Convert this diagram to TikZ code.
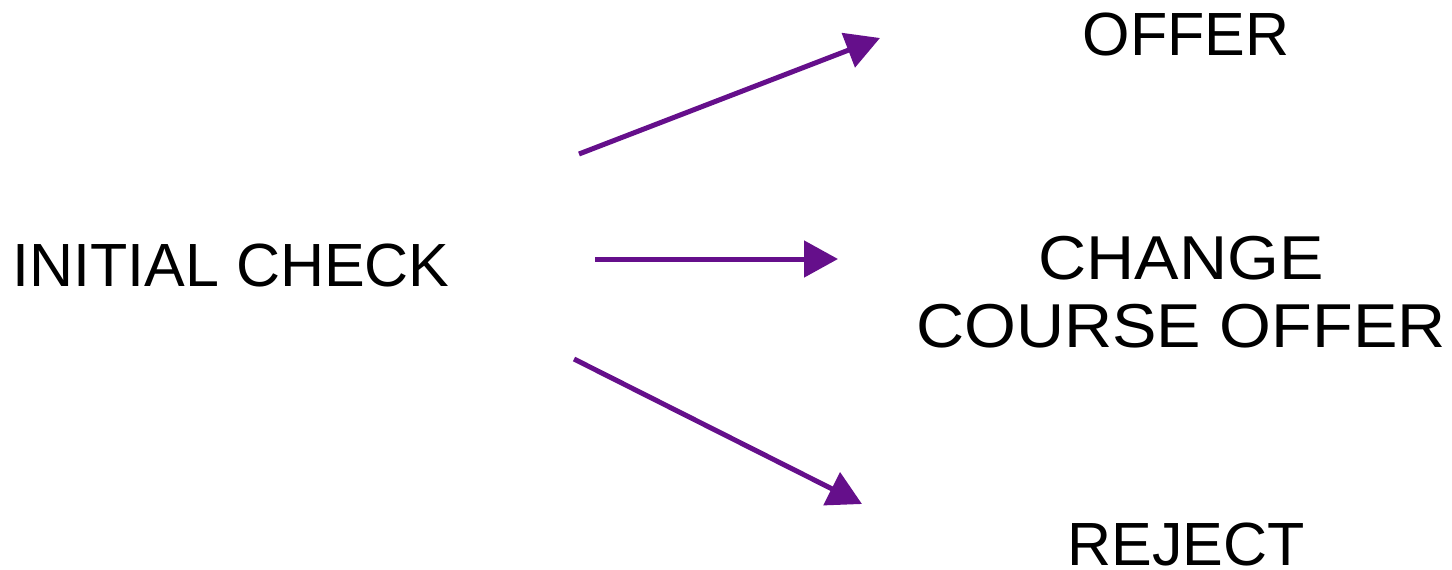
\documentclass[tikz,border=0pt]{standalone}
\usepackage{fontspec}
\setmainfont{Liberation Sans}
\newfontfamily\widesans[FakeStretch=1.075]{Liberation Sans}
\usetikzlibrary{arrows.meta}
\definecolor{arrowpurple}{HTML}{650F8B}
\tikzset{
  label text/.style={font=\fontsize{61}{68}\selectfont, inner sep=0pt, anchor=base, align=center},
  flow/.style={draw=arrowpurple, line width=5pt, -{Triangle[length=34pt,width=36pt]}, arrowpurple}
}
\begin{document}
\begin{tikzpicture}[x=1pt,y=-1pt]
\useasboundingbox (0,0) rectangle (1452,570);
\node[label text] (init) at (231,286) {INITIAL CHECK};
\node[label text] (offer) at (1186,55) {OFFER};
\node[label text, font=\widesans\fontsize{62}{68}\selectfont] (change) at (1181,347) {CHANGE\\COURSE OFFER};
\node[label text] (reject) at (1186,565) {REJECT};
\coordinate (s1) at (579,154);
\coordinate (e1) at (880,38);
\coordinate (s2) at (595,259);
\coordinate (e2) at (838,259);
\coordinate (s3) at (574,359);
\coordinate (e3) at (862,504);
\draw[flow] (s1) -- (e1);
\draw[flow] (s2) -- (e2);
\draw[flow] (s3) -- (e3);
\end{tikzpicture}
\end{document}
